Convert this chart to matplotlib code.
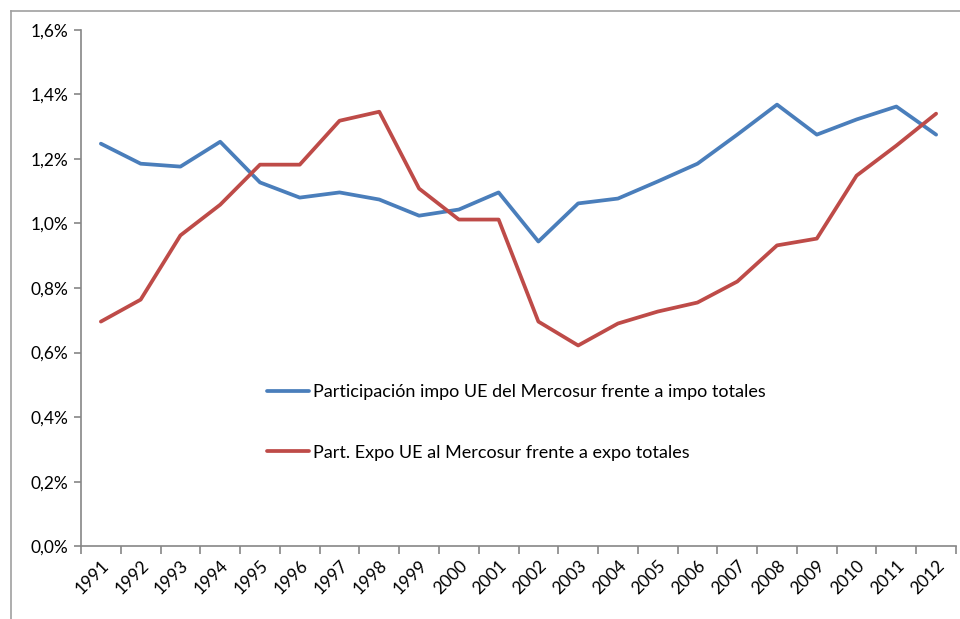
import matplotlib.pyplot as plt
from matplotlib.ticker import FuncFormatter
from matplotlib.lines import Line2D

years = [str(y) for y in range(1991, 2013)]

impo = [1.247, 1.185, 1.176, 1.253, 1.127, 1.080, 1.096, 1.074, 1.024, 1.043, 1.096,
        0.944, 1.062, 1.077, 1.130, 1.185, 1.275, 1.368, 1.275, 1.322, 1.362, 1.275]
expo = [0.696, 0.764, 0.963, 1.058, 1.182, 1.182, 1.318, 1.346, 1.108, 1.012, 1.012,
        0.696, 0.622, 0.690, 0.727, 0.755, 0.820, 0.932, 0.953, 1.148, 1.241, 1.340]

lbl_impo = "Participación impo UE del Mercosur frente a impo totales"
lbl_expo = "Part. Expo UE al Mercosur frente a expo totales"

plt.rcParams['font.family'] = ['Lato', 'DejaVu Sans']
gris = '#868686'

fig = plt.figure(figsize=(9.6, 6.19), dpi=100)
# borde del área del gráfico (solo se ve arriba y a la izquierda)
fig.add_artist(Line2D([11 / 960, 11 / 960], [0, 1 - 11 / 619], transform=fig.transFigure, color='#a0a0a0', lw=1.2))
fig.add_artist(Line2D([11 / 960, 1], [1 - 11 / 619, 1 - 11 / 619], transform=fig.transFigure, color='#a0a0a0', lw=1.2))

ax = fig.add_axes([81 / 960, 1 - 546.3 / 619, 875 / 960, 516.6 / 619])
x = list(range(len(years)))
ax.plot(x, impo, color='#4A7EBB', lw=2.7, label=lbl_impo, solid_capstyle='round')
ax.plot(x, expo, color='#BE4B48', lw=2.7, label=lbl_expo, solid_capstyle='round')

ax.set_xlim(-0.5, len(years) - 0.5)
ax.set_ylim(0, 1.6)
ax.set_yticks([0, 0.2, 0.4, 0.6, 0.8, 1.0, 1.2, 1.4, 1.6])
ax.yaxis.set_major_formatter(FuncFormatter(lambda v, p: f"{v:.1f}%".replace('.', ',')))

ax.set_xticks(x)
ax.set_xticklabels(years, rotation=45, ha='right', rotation_mode='anchor')
ax.set_xticks([i - 0.5 for i in range(len(years) + 1)], minor=True)
ax.tick_params(axis='x', which='major', length=0, pad=8, labelsize=12.5)
ax.tick_params(axis='x', which='minor', length=6, color=gris, width=1.2)
ax.tick_params(axis='y', length=5, color=gris, width=1.2, labelsize=12.5, pad=4)

for s in ['top', 'right']:
    ax.spines[s].set_visible(False)
for s in ['left', 'bottom']:
    ax.spines[s].set_color(gris)
    ax.spines[s].set_linewidth(1.2)

ax.legend(frameon=False, loc='center left', bbox_to_anchor=(0.2126, 0.2397),
          borderaxespad=0, borderpad=0, fontsize=13, handlelength=2.3,
          handletextpad=0.25, labelspacing=2.45)

fig.savefig('out.png', dpi=100)
